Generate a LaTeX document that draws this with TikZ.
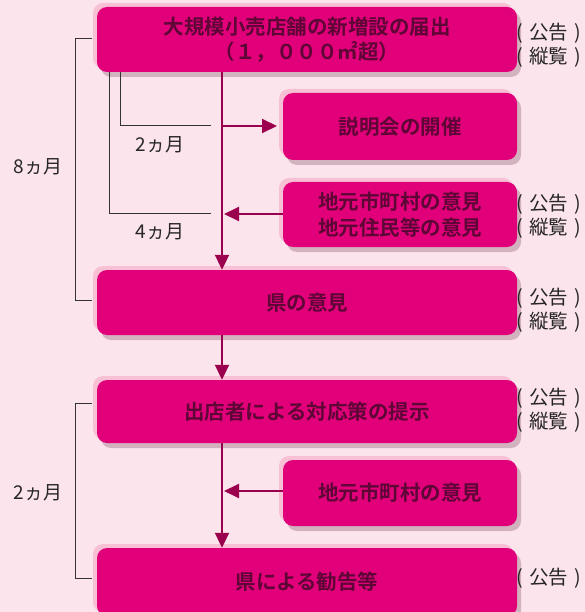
\documentclass[tikz,border=0pt]{standalone}
\usepackage{fontspec}
\newfontfamily\jp{Noto Sans CJK JP}
\newfontfamily\jpb{Noto Sans CJK JP Bold}
\usetikzlibrary{arrows.meta,positioning,calc}
\definecolor{bgc}{HTML}{FCE4EC}
\definecolor{boxc}{HTML}{E2007A}
\definecolor{hlc}{HTML}{F8C0D4}
\definecolor{shc}{HTML}{D2B2BE}
\definecolor{txtc}{HTML}{5E0636}
\definecolor{arrc}{HTML}{9A004E}
\definecolor{brc}{HTML}{333333}
\newcommand{\notetxt}[1]{(\hspace{6pt}#1\hspace{6pt})}
\tikzset{
  x=1pt,y=-1pt,
  flowbox/.style={rounded corners=10pt, fill=boxc, text=txtc, inner sep=0pt,
    font=\jpb\fontsize{20.5}{25}\selectfont, align=center,
    preaction={fill=shc, transform canvas={shift={(4pt,-5pt)}}},
    preaction={fill=hlc, transform canvas={shift={(-4pt,4pt)}}}},
  widebox/.style={flowbox, minimum width=420pt},
  sidebox/.style={flowbox, minimum width=234pt},
  flowarrow/.style={draw=arrc, line width=2pt, -{Triangle[length=15pt,width=14pt]}},
  bracket/.style={draw=brc, line width=0.9pt},
  notelbl/.style={font=\jp\fontsize{19.5}{24}\selectfont, text=black!85, align=center, inner sep=0pt},
  durlbl/.style={font=\jp\fontsize{19}{20}\selectfont, text=black!85, inner sep=0pt}
}
\begin{document}
\begin{tikzpicture}
\fill[bgc] (0,0) rectangle (585,612);
\useasboundingbox (0,0) rectangle (585,612);
\begin{scope}
\clip (0,0) rectangle (585,612);
% boxes
\node[widebox, minimum height=65pt] (b1) at (307,39.5) {大規模小売店舗の新増設の届出\\（１，０００㎡超）};
\node[sidebox, minimum height=67pt] (b2) at (400,126.5) {説明会の開催};
\node[sidebox, minimum height=65pt, font=\jpb\fontsize{20.5}{26}\selectfont] (b3) at (400,214.5) {地元市町村の意見\\地元住民等の意見};
\node[widebox, minimum height=65pt] (b4) at (307,302.5) {県の意見};
\node[widebox, minimum height=63pt] (b5) at (307,411.5) {出店者による対応策の提示};
\node[sidebox, minimum height=66pt] (b6) at (400,493) {地元市町村の意見};
\node[widebox, minimum height=68pt] (b7) at (307,582) {県による勧告等};
\end{scope}

% side notes
\node[notelbl] (n1) at (549,45) {\notetxt{公告}\\\notetxt{縦覧}};
\node[notelbl] (n3) at (549,216.5) {\notetxt{公告}\\\notetxt{縦覧}};
\node[notelbl] (n4) at (549,310) {\notetxt{公告}\\\notetxt{縦覧}};
\node[notelbl] (n5) at (549,410) {\notetxt{公告}\\\notetxt{縦覧}};
\node[notelbl] (n7) at (549,578) {\notetxt{公告}};

% main arrows
\coordinate (mtop) at (222,72);
\draw[flowarrow] (b1.south -| mtop) -- (b4.north -| mtop);
\coordinate (j1) at (222,126);
\coordinate (j1e) at (277,126);
\draw[flowarrow] (j1) -- (j1e);
\coordinate (j2) at (224,214);
\draw[flowarrow] (b3.west |- j2) -- (j2);
\draw[flowarrow] (b4.south -| mtop) -- (b5.north -| mtop);
\draw[flowarrow] (b5.south -| mtop) -- (b7.north -| mtop);
\coordinate (j3) at (224,491);
\draw[flowarrow] (b6.west |- j3) -- (j3);

% brackets
\coordinate (c8a) at (92,38);
\coordinate (c8b) at (92,300);
\draw[bracket] (c8a) -- (75,38) -- (75,300) -- (c8b);
\draw[bracket] (b1.south -| 120,0) -- (120,125) -- (211,125);
\draw[bracket] (b1.south -| 109,0) -- (109,213) -- (211,213);
\coordinate (c2a) at (92,403);
\coordinate (c2b) at (92,578);
\draw[bracket] (c2a) -- (75,403) -- (75,578) -- (c2b);

% duration labels
\node[durlbl] (d2) at (160,145) {2ヵ月};
\node[durlbl] (d4) at (160,232) {4ヵ月};
\node[durlbl] (d8) at (38,167) {8ヵ月};
\node[durlbl] (d2b) at (38,493) {2ヵ月};
\end{tikzpicture}
\end{document}
